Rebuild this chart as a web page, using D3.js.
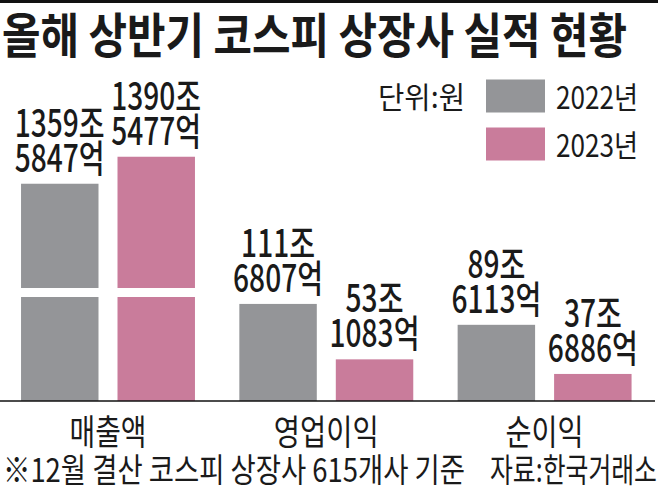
<!DOCTYPE html>
<html><head><meta charset="utf-8">
<script src="https://cdn.jsdelivr.net/npm/d3@7"></script>
<style>html,body{margin:0;padding:0;background:#fff;} svg{display:block;}</style>
</head><body><svg id="c" width="658" height="488"></svg>
<script>
const categories = ["매출액", "영업이익", "순이익"];
const seriesNames = ["2022년", "2023년"];
const values2022 = [1359.5847, 111.6807, 89.6113];
const values2023 = [1390.5477, 53.1083, 37.6886];
const labels2022 = [["1359조", "5847억"], ["111조", "6807억"], ["89조", "6113억"]];
const labels2023 = [["1390조", "5477억"], ["53조", "1083억"], ["37조", "6886억"]];
const seriesColors = ["#949598", "#c97c9b"];
const titleText = "올해 상반기 코스피 상장사 실적 현황";
const unitText = "단위:원";
const footnoteText = "※12월 결산 코스피 상장사 615개사 기준";
const sourceText = "자료:한국거래소";
// broken value axis: lower segment [9.1,119], upper segment [1240,1400]
const breakLow = 119, breakHigh = 1240;
const yDomain = [9.1, breakLow, breakHigh, 1400];

const FONT = "'Noto Sans CJK KR','Noto Sans',sans-serif";
const svg = d3.select("#c");
svg.append("rect").attr("width", 658).attr("height", 488).attr("fill", "#fff");
svg.append("rect").attr("x", 0).attr("y", 0).attr("width", 658).attr("height", 3).attr("fill", "#111");

const baseY = 401;
const y = d3.scaleLinear().domain(yDomain).range([baseY, 297, 288, 148.5]);
const x0 = d3.scaleBand().domain(categories).range([-1.15, 653.75]).paddingInner(0).paddingOuter(0);
const x1 = d3.scaleBand().domain(seriesNames).range([0, x0.bandwidth()]).paddingInner(0.197).paddingOuter(0.23);
const color = d3.scaleOrdinal().domain(seriesNames).range(seriesColors);

const rows = [];
categories.forEach((c, i) => {
  rows.push({cat: c, s: seriesNames[0], v: values2022[i], lab: labels2022[i]});
  rows.push({cat: c, s: seriesNames[1], v: values2023[i], lab: labels2023[i]});
});

// title
svg.append("text").attr("x", 2).attr("y", 53)
  .attr("font-family", FONT).attr("font-weight", 700).attr("font-size", 48)
  .attr("fill", "#1a1a1a").attr("textLength", 625).attr("lengthAdjust", "spacingAndGlyphs")
  .text(titleText);

// bars
const g = svg.append("g");
rows.forEach(d => {
  const bx = x0(d.cat) + x1(d.s), bw = x1.bandwidth();
  if (d.v > breakHigh) {
    g.append("rect").attr("x", bx).attr("width", bw)
      .attr("y", y(breakLow)).attr("height", baseY - y(breakLow)).attr("fill", color(d.s));
    g.append("rect").attr("x", bx).attr("width", bw)
      .attr("y", y(d.v)).attr("height", y(breakHigh) - y(d.v)).attr("fill", color(d.s));
  } else {
    g.append("rect").attr("x", bx).attr("width", bw)
      .attr("y", y(d.v)).attr("height", baseY - y(d.v)).attr("fill", color(d.s));
  }
  const cx = bx + bw / 2;
  const b2 = y(d.v) - 12;
  [d.lab[0], d.lab[1]].forEach((t, k) => {
    g.append("text")
      .attr("transform", `translate(${cx},${k === 0 ? b2 - 35 : b2}) scale(0.74,1)`)
      .attr("text-anchor", "middle").attr("font-family", FONT).attr("font-weight", 500)
      .attr("font-size", 38).attr("fill", "#1a1a1a").text(t);
  });
});

// axis
const xAxis = d3.axisBottom(x0).tickSize(0).tickPadding(0);
const ax = svg.append("g").attr("transform", `translate(0,${baseY})`).call(xAxis);
ax.select(".domain").attr("d", "M0,0H655").attr("stroke", "#111").attr("stroke-width", 1.6);
const catLens = {"매출액": 77, "영업이익": 105, "순이익": 78};
ax.selectAll(".tick text").attr("y", 44).attr("dy", null)
  .attr("font-family", FONT).attr("font-size", 35).attr("font-weight", 400).attr("fill", "#1a1a1a")
  .attr("textLength", d => catLens[d]).attr("lengthAdjust", "spacingAndGlyphs");

// legend
svg.append("text").attr("x", 378).attr("y", 108).attr("font-family", FONT).attr("font-size", 30)
  .attr("fill", "#1a1a1a").attr("textLength", 87).attr("lengthAdjust", "spacingAndGlyphs").text(unitText);
seriesNames.forEach((s, i) => {
  const ly = 79.5 + i * 48;
  svg.append("rect").attr("x", 486).attr("y", ly).attr("width", 59).attr("height", 33).attr("fill", color(s));
  svg.append("text").attr("x", 556).attr("y", ly + 29).attr("font-family", FONT).attr("font-size", 31)
    .attr("fill", "#1a1a1a").attr("textLength", 82).attr("lengthAdjust", "spacingAndGlyphs").text(s);
});

// footnote & source
svg.append("text").attr("x", 3).attr("y", 482).attr("font-family", FONT).attr("font-size", 33)
  .attr("fill", "#1a1a1a").attr("textLength", 462).attr("lengthAdjust", "spacingAndGlyphs").text(footnoteText);
svg.append("text").attr("x", 490).attr("y", 482).attr("font-family", FONT).attr("font-size", 33)
  .attr("fill", "#1a1a1a").attr("textLength", 167).attr("lengthAdjust", "spacingAndGlyphs").text(sourceText);
</script></body></html>
